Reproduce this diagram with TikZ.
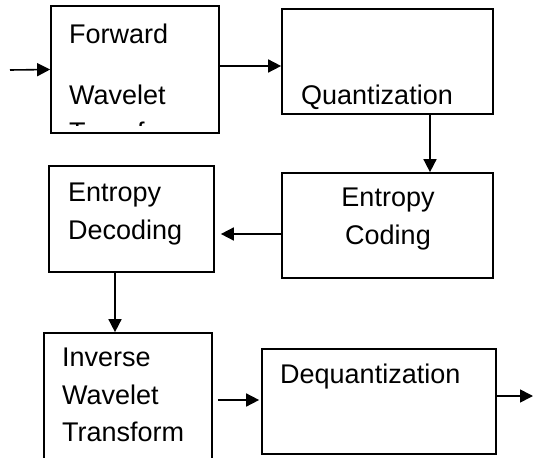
\documentclass[tikz,border=0pt]{standalone}
\usepackage{fontspec}
\setmainfont{Liberation Sans}
\usetikzlibrary{arrows.meta,positioning}
\tikzset{
  >={Triangle[length=13pt,width=13pt]},
  block/.style={draw=black,line width=1.7pt,inner sep=0pt},
  lbl/.style={inner sep=0pt,font=\fontsize{27}{37.5}\selectfont},
  flow/.style={->,line width=1.6pt,draw=black},
}
\begin{document}
\begin{tikzpicture}[x=1pt,y=-1pt]
  \clip (0,0) rectangle (534,457);
  % blocks
  \node[block,minimum width=168,minimum height=127] (fwt) at (135,69.5) {};
  \node[block,minimum width=211,minimum height=105] (quant) at (387.5,61.5) {};
  \node[block,minimum width=211,minimum height=105] (ecod) at (387.5,225.5) {};
  \node[block,minimum width=165,minimum height=106] (edec) at (131.5,219) {};
  \node[block,minimum width=168,minimum height=137] (iwt) at (128,401.5) {};
  \node[block,minimum width=234,minimum height=105] (deq) at (379,401.5) {};
  \begin{scope}
    \clip (fwt.north west) rectangle ([yshift=8pt]fwt.south east);
    \node[lbl,align=left,anchor=north west] (fwtText) at (69,24) {Forward\\[23pt]Wavelet\\Transform};
  \end{scope}
  \node[lbl,anchor=base west] (quantText) at (301,105) {Quantization};
  \node[lbl,align=center,anchor=north] (ecodText) at (388,188) {Entropy\\Coding};
  \node[lbl,align=left,anchor=north west] (edecText) at (68,183) {Entropy\\Decoding};
  \node[lbl,align=left,anchor=north west] (iwtText) at (62,348) {Inverse\\Wavelet\\Transform};
  \node[lbl,anchor=base west] (deqText) at (280,383) {Dequantization};
  % connectors
  \coordinate (in) at (10,70);
  \coordinate (out) at (533,396);
  \draw[flow] (in) -- (fwt.west);
  \draw[flow] ([yshift=3.5pt]fwt.east) -- ([yshift=-4.5pt]quant.west);
  \draw[flow] ([xshift=42.5pt]quant.south) -- ([xshift=42.5pt]ecod.north);
  \draw[flow,shorten >=6pt] ([yshift=-8.5pt]ecod.west) -- ([yshift=-15pt]edec.east);
  \draw[flow] ([xshift=-16.5pt]edec.south) -- ([xshift=-13pt]iwt.north);
  \draw[flow,shorten <=5pt,shorten >=2pt] ([yshift=1.5pt]iwt.east) -- ([yshift=1.5pt]deq.west);
  \draw[flow] ([yshift=5.5pt]deq.east) -- (out);
\end{tikzpicture}
\end{document}
